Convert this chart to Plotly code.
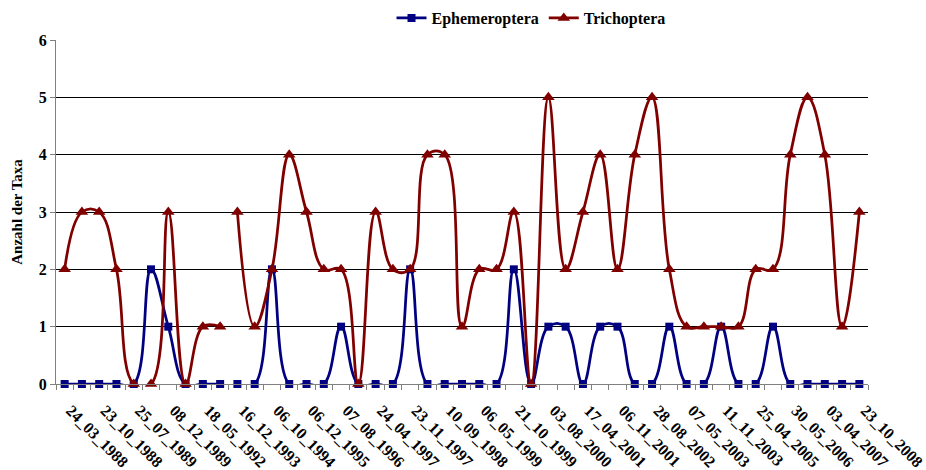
import plotly.graph_objects as go

tick_labels = ["24_03_1988", "23_10_1988", "25_07_1989", "08_12_1989", "18_05_1992",
               "16_12_1993", "06_10_1994", "06_12_1995", "07_08_1996", "24_04_1997",
               "23_11_1997", "10_09_1998", "06_05_1999", "21_10_1999", "03_08_2000",
               "17_04_2001", "06_11_2001", "28_08_2002", "07_05_2003", "11_11_2003",
               "25_04_2005", "30_05_2006", "03_04_2007", "23_10_2008"]

ephemeroptera = [0, 0, 0, 0, 0, 2, 1, 0, 0, 0,
                 0, 0, 2, 0, 0, 0, 1, 0, 0, 0,
                 2, 0, 0, 0, 0, 0, 2, 0, 1, 1,
                 0, 1, 1, 0, 0, 1, 0, 0, 1, 0,
                 0, 1, 0, 0, 0, 0, 0]
trichoptera = [2, 3, 3, 2, 0, 0, 3, 0, 1, 1,
               3, 1, 2, 4, 3, 2, 2, 0, 3, 2,
               2, 4, 4, 1, 2, 2, 3, 0, 5, 2,
               3, 4, 2, 4, 5, 2, 1, 1, 1, 1,
               2, 2, 4, 5, 4, 1, 3]
segment_break = 10  # line is interrupted between sample 9 and sample 10

n = len(trichoptera)
x_idx = list(range(n))
tick_idx = list(range(0, n, 2))

FONT = "Liberation Serif"
fig = go.Figure()

series = [("Ephemeroptera", ephemeroptera, "#000080", "square", 8),
          ("Trichoptera", trichoptera, "#800000", "triangle-up", 11)]

for name, vals, col, sym, msize in series:
    for k, (a, b) in enumerate([(0, segment_break), (segment_break, n)]):
        fig.add_trace(go.Scatter(
            x=x_idx[a:b], y=vals[a:b], name=name, legendgroup=name,
            showlegend=(k == 0), mode="lines+markers",
            line=dict(color=col, width=2.75, shape="spline", smoothing=1.15),
            marker=dict(symbol=sym, size=msize, color=col),
            cliponaxis=False,
        ))

fig.update_layout(
    width=926, height=470,
    margin=dict(l=56, r=58, t=40, b=86, autoexpand=False),
    paper_bgcolor="white", plot_bgcolor="white",
    font=dict(family=FONT, size=15, color="black"),
    legend=dict(orientation="h", x=0.585, xanchor="center", y=1.064, yanchor="middle",
                font=dict(family=FONT, size=16, color="black", weight="bold"),
                itemwidth=30, tracegroupgap=0),
    showlegend=True,
)
fig.update_xaxes(
    range=[-0.5, n - 0.5], showgrid=False, zeroline=False,
    showline=True, linecolor="#808080", linewidth=1,
    tickmode="array", tickvals=tick_idx, ticktext=tick_labels,
    ticks="", tickangle=45, ticklabelstandoff=10, ticklabelshift=6,
    ticklabeloverflow="allow",
    tickfont=dict(family=FONT, size=16, color="black", weight="bold"),
    minor=dict(tick0=0.5, dtick=1, ticks="outside", ticklen=5, tickcolor="#808080", showgrid=False),
)
fig.update_yaxes(
    range=[0, 6], dtick=1, showgrid=True, gridcolor="black", gridwidth=1,
    zeroline=False, showline=True, linecolor="#808080", linewidth=1,
    ticks="outside", ticklen=5, tickcolor="#808080",
    tickfont=dict(family=FONT, size=16, color="black", weight="bold"),
    title=dict(text="Anzahl der Taxa", font=dict(family=FONT, size=15, color="black", weight="bold"), standoff=12),
)

fig.write_html("out.html")
